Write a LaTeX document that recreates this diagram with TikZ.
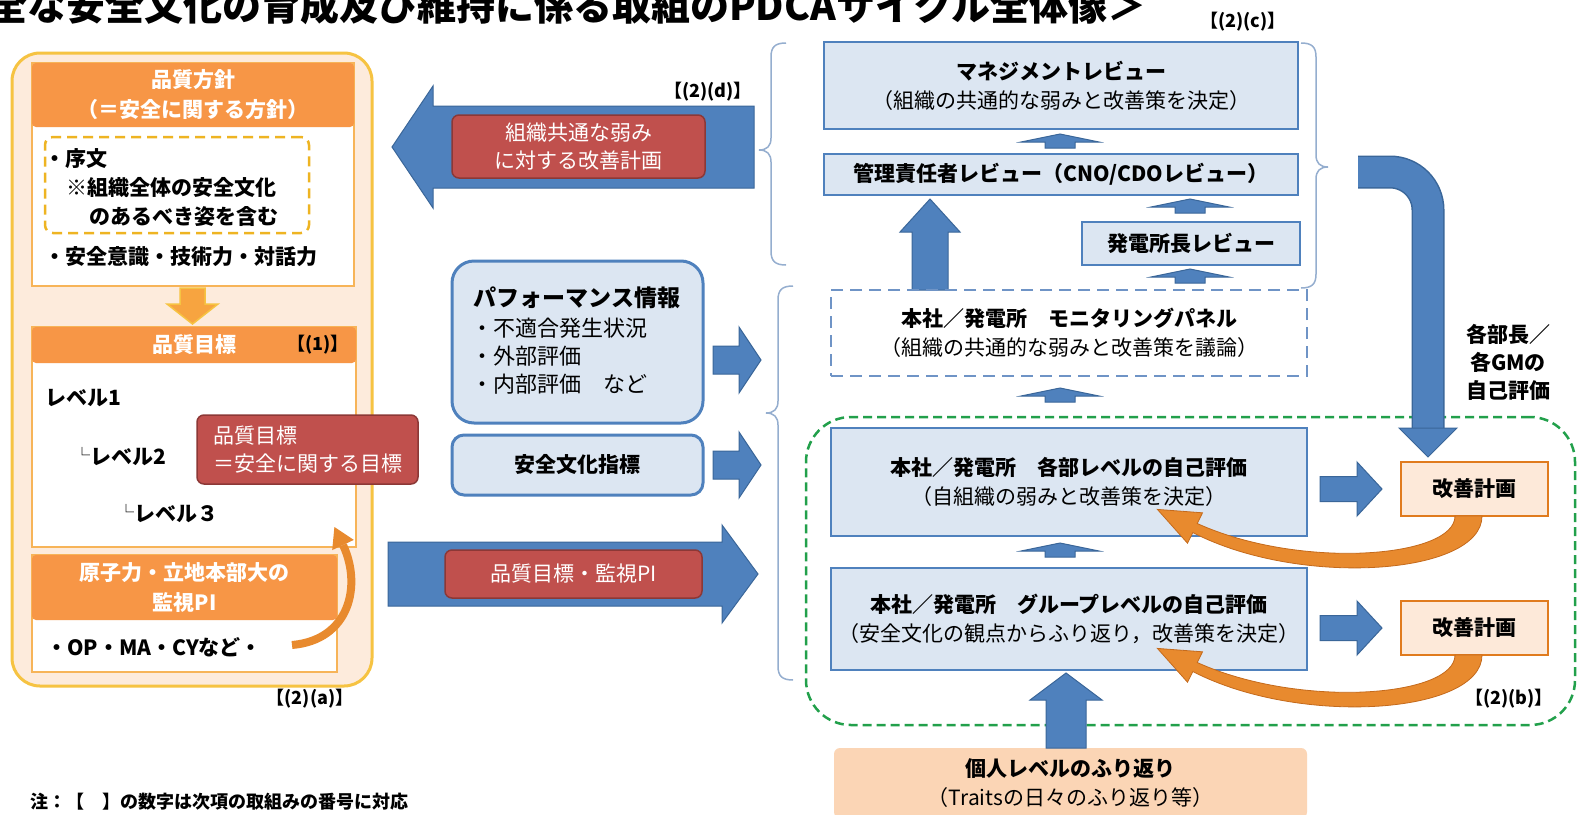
\documentclass[tikz,border=0pt]{standalone}
\usepackage{fontspec}
\setmainfont{Noto Sans CJK JP}
\usetikzlibrary{calc}
\definecolor{blueF}{HTML}{4F81BD}
\definecolor{blueD}{HTML}{3A6699}
\definecolor{lightB}{HTML}{DCE6F2}
\definecolor{redF}{HTML}{C0504D}
\definecolor{redD}{HTML}{8C3836}
\definecolor{orH}{HTML}{F79646}
\definecolor{panelF}{HTML}{FDEBDC}
\definecolor{panelB}{HTML}{F6C342}
\definecolor{innerB}{HTML}{F7B458}
\definecolor{dashY}{HTML}{EEB422}
\definecolor{orDown}{HTML}{F7A440}
\definecolor{greenD}{HTML}{22A04B}
\definecolor{peach}{HTML}{FBD5B5}
\definecolor{kzF}{HTML}{FDE9D9}
\definecolor{kzB}{HTML}{E07B1E}
\definecolor{arrO}{HTML}{E88A2E}
\definecolor{arrOD}{HTML}{C46A1C}
\definecolor{braceC}{HTML}{95AECF}
\definecolor{monB}{HTML}{6F94C6}

% block arrow: [style]{start}{angle}{length}{shaft half width}{head half width}{head length}
\newcommand\blk[7][]{%
  \begin{scope}[shift={(#2)},rotate=#3]
    \filldraw[#1] (0,-#5) -- ({#4-#7},-#5) -- ({#4-#7},-#6) -- (#4,0) -- ({#4-#7},#6) -- ({#4-#7},#5) -- (0,#5) -- cycle;
  \end{scope}}
% left brace: {x}{ytop}{ytip}{ybottom}
\newcommand\bracel[4]{%
  \draw[brc] (#1+15,#2) .. controls (#1+4,#2) and (#1,#2+4) .. (#1,#2+14) -- (#1,#3-12)
    .. controls (#1,#3-4) and (#1-4,#3) .. (#1-12,#3)
    .. controls (#1-4,#3) and (#1,#3+4) .. (#1,#3+12) -- (#1,#4-14)
    .. controls (#1,#4-4) and (#1+4,#4) .. (#1+15,#4);}
% right brace
\newcommand\bracer[4]{%
  \draw[brc] (#1-15,#2) .. controls (#1-4,#2) and (#1,#2+4) .. (#1,#2+14) -- (#1,#3-12)
    .. controls (#1,#3-4) and (#1+4,#3) .. (#1+12,#3)
    .. controls (#1+4,#3) and (#1,#3+4) .. (#1,#3+12) -- (#1,#4-14)
    .. controls (#1,#4-4) and (#1-4,#4) .. (#1-15,#4);}
% orange feedback arc from an improvement plan box
\newcommand\kzarc[1]{%
  \filldraw[orarr] (1455,516+#1) -- (1482,516+#1) .. controls (1482,575+#1) and (1300,588+#1) .. (1192.8,532.5+#1)
    -- (1187.5,543.2+#1) -- (1157.4,509.4+#1) -- (1202.5,512.8+#1) -- (1197.2,523.5+#1)
    .. controls (1300,570+#1) and (1455,558+#1) .. (1455,516+#1) -- cycle;}

\begin{document}
\begin{tikzpicture}[x=1pt,y=-1pt,
  every node/.style={inner sep=0pt},
  bx/.style={font=\fontsize{21}{29}\selectfont\bfseries},
  sm/.style={font=\fontsize{18}{22}\selectfont\bfseries},
  rbox/.style={draw=blueF, line width=2.5pt, fill=lightB, align=center, font=\fontsize{21}{29}\selectfont},
  hdr/.style={fill=orH, rounded corners=4pt, text=white, align=center, font=\fontsize{21}{30}\selectfont\bfseries},
  wbox/.style={draw=innerB, line width=2.5pt, fill=white},
  redbox/.style={draw=redD, line width=1.5pt, fill=redF, rounded corners=7pt, text=white, font=\fontsize{21}{28}\selectfont},
  blkB/.style={fill=blueF, draw=blueD, line width=1pt},
  brc/.style={draw=braceC, line width=1.5pt},
  kz/.style={draw=kzB, fill=kzF, line width=2.5pt, font=\fontsize{21}{29}\selectfont\bfseries},
  orarr/.style={fill=arrO, draw=arrOD, line width=0.8pt},
  ptx/.style={font=\fontsize{22}{28}\selectfont, anchor=west},
]
\useasboundingbox (0,0) rectangle (1586,814);
\clip (0,0) rectangle (1586,814);
\fill[white] (0,0) rectangle (1586,814);

% title (cut at the top, as in the reference)
\node[anchor=base west, font=\fontsize{39}{39}\selectfont\bfseries] (title) at (-90,20) {＜健全な安全文化の育成及び維持に係る取組のPDCAサイクル全体像＞};

% ---------- left panel ----------
\node[draw=panelB, fill=panelF, line width=3pt, rounded corners=28pt, minimum width=360pt, minimum height=633pt] (panel) at (192,369.5) {};
\node[wbox, minimum width=322pt, minimum height=223pt] (pol) at (193,174.5) {};
\node[hdr, minimum width=322pt, minimum height=64pt] (polh) at (193,95) {品質方針\\（＝安全に関する方針）};
\node[draw=dashY, line width=2.5pt, dash pattern=on 10pt off 6pt, rounded corners=8pt, minimum width=264pt, minimum height=96pt] (pre) at (177,185) {};
\node[bx, anchor=west] (t1) at (44,159) {・序文};
\node[bx, anchor=west] (t2) at (66,188) {※組織全体の安全文化};
\node[bx, anchor=west] (t3) at (89,217) {のあるべき姿を含む};
\node[bx, anchor=west] (t4) at (44,257) {・安全意識・技術力・対話力};

\coordinate (da) at (192.5,288);
\blk[fill=orDown, draw=panelB, line width=1.5pt]{da}{-90}{36}{12.5}{25.5}{20}

\node[wbox, minimum width=324pt, minimum height=220pt] (goal) at (194,437) {};
\node[hdr, minimum width=324pt, minimum height=36pt] (goalh) at (194,345) {品質目標};
\node[sm] (n1) at (318,345) {【(1)】};
\node[bx, anchor=west] (l1) at (45,398) {レベル1};
\node[bx, anchor=west] (l2) at (74,457) {\raisebox{3pt}{\fontsize{16}{16}\selectfont └}レベル2};
\node[bx, anchor=west] (l3) at (118,514) {\raisebox{3pt}{\fontsize{16}{16}\selectfont └}レベル３};
\node[redbox, align=left, minimum width=221pt, minimum height=69pt] (red1) at (307.5,449.5) {品質目標\\＝安全に関する目標};

\node[wbox, minimum width=305pt, minimum height=117pt] (pi) at (184.5,613.5) {};
\node[hdr, minimum width=305pt, minimum height=65pt] (pih) at (184.5,587.5) {原子力・立地本部大の\\監視PI};
\node[bx, anchor=west] (op) at (46,647) {・OP・MA・CYなど・};

\coordinate (oc1) at (292,645);
\coordinate (oc2) at (343,545);
\draw[line width=8pt, arrO] (oc1) .. controls (350,640) and (362,585) .. (oc2);
\fill[arrO] (353.8,539.9) -- (334.4,527) -- (332.2,550.1) -- cycle;

\node[sm] (lab2a) at (310,699) {【(2)(a)】};
\node[anchor=west, font=\fontsize{18}{22}\selectfont\bfseries] (note) at (30,802) {注：【　】の数字は次項の取組みの番号に対応};

% ---------- middle ----------
\coordinate (L1s) at (754,147);
\blk[blkB]{L1s}{180}{362}{41}{61}{41}
\node[redbox, align=center, minimum width=253pt, minimum height=63pt] (red2) at (578.5,146.5) {組織共通な弱み\\に対する改善計画};
\node[sm] (lab2d) at (708,92) {【(2)(d)】};

\bracel{771}{43}{150}{265}
\bracel{778}{286}{413}{680}

\node[draw=blueF, line width=3pt, fill=lightB, rounded corners=22pt, minimum width=251pt, minimum height=162pt] (perf) at (577.5,342) {};
\node[font=\fontsize{23}{29}\selectfont\bfseries] (perft) at (577,298) {パフォーマンス情報};
\node[ptx] (p1) at (471,328) {・不適合発生状況};
\node[ptx] (p2) at (471,356) {・外部評価};
\node[ptx] (p3) at (471,384) {・内部評価　など};

\node[draw=blueF, line width=3pt, fill=lightB, rounded corners=12pt, minimum width=251pt, minimum height=60pt, font=\fontsize{21}{29}\selectfont\bfseries] (sci) at (577.5,465) {安全文化指標};

\coordinate (sa1) at (713,360);
\blk[blkB]{sa1}{0}{48}{14}{33}{22}
\coordinate (sa2) at (713,465);
\blk[blkB]{sa2}{0}{48}{14}{33}{22}

\coordinate (R1s) at (388,574);
\blk[blkB]{R1s}{0}{370}{32}{49}{36}
\node[redbox, minimum width=257pt, minimum height=48pt] (red3) at (573.5,574) {品質目標・監視PI};

% ---------- right column ----------
\node[sm] (lab2c) at (1243,22) {【(2)(c)】};
\node[rbox, minimum width=474pt, minimum height=87pt] (mgmt) at (1061,85.5) {{\bfseries マネジメントレビュー}\\（組織の共通的な弱みと改善策を決定）};
\node[rbox, font=\fontsize{21}{29}\selectfont\bfseries, minimum width=474pt, minimum height=41pt] (kanri) at (1061,174.5) {管理責任者レビュー（CNO/CDOレビュー）};
\node[rbox, font=\fontsize{21}{29}\selectfont\bfseries, minimum width=218pt, minimum height=43pt] (hatsu) at (1191,243.5) {発電所長レビュー};

\coordinate (a1) at (1060,148);
\blk[blkB]{a1}{90}{14}{15}{39}{8}
\coordinate (a2) at (1190,213);
\blk[blkB]{a2}{90}{14}{15}{39}{8}
\coordinate (a3) at (1190,283);
\blk[blkB]{a3}{90}{14}{15}{39}{8}

\coordinate (U1s) at (930,290);
\blk[blkB]{U1s}{90}{91}{18}{30}{33}

\bracer{1316}{43}{167}{288}

\node[draw=monB, line width=2.5pt, dash pattern=on 12pt off 7pt, minimum width=476pt, minimum height=86pt, align=center, font=\fontsize{21}{29}\selectfont] (mon) at (1069,333) {{\bfseries 本社／発電所　モニタリングパネル}\\（組織の共通的な弱みと改善策を議論）};
\coordinate (a4) at (1060,402);
\blk[blkB]{a4}{90}{14}{15}{39}{8}

\node[draw=greenD, line width=2.5pt, dash pattern=on 9pt off 5pt, rounded corners=45pt, minimum width=769pt, minimum height=308pt] (grn) at (1190.5,571) {};

\node[rbox, minimum width=476pt, minimum height=108pt] (kakubu) at (1069,482) {{\bfseries 本社／発電所　各部レベルの自己評価}\\（自組織の弱みと改善策を決定）};
\coordinate (a5) at (1060,557);
\blk[blkB]{a5}{90}{14}{15}{39}{8}
\node[rbox, minimum width=476pt, minimum height=102pt] (group) at (1069,619) {{\bfseries 本社／発電所　グループレベルの自己評価}\\（安全文化の観点からふり返り，改善策を決定）};

\node[fill=peach, rounded corners=6pt, minimum width=473pt, minimum height=70pt, align=center, font=\fontsize{21}{29}\selectfont] (kojin) at (1070.5,783) {{\bfseries 個人レベルのふり返り}\\（Traitsの日々のふり返り等）};
\coordinate (U2s) at (1066,748);
\blk[blkB]{U2s}{90}{75}{20}{36}{27}

\node[kz, minimum width=147pt, minimum height=54pt] (kz1) at (1474.5,489) {改善計画};
\node[kz, minimum width=147pt, minimum height=54pt] (kz2) at (1474.5,628) {改善計画};
\coordinate (k1s) at (1320,489);
\blk[blkB]{k1s}{0}{62}{12.5}{27}{25}
\coordinate (k2s) at (1320,628);
\blk[blkB]{k2s}{0}{62}{12.5}{27}{25}

\kzarc{0}
\kzarc{139}

% curved blue arrow from the review group down to the plan
\coordinate (bc0) at (1358,172);
\coordinate (bc1) at (1428,172);
\coordinate (bc2) at (1428,431);
\draw[line width=33pt, blueD, rounded corners=38pt] (bc0) -- (bc1) -- (bc2);
\draw[line width=30pt, blueF, rounded corners=38pt] (bc0) -- (bc1) -- (bc2);
\coordinate (bch) at (1428,428);
\blk[blkB]{bch}{-90}{29}{15}{29}{29}

\node[align=center, font=\fontsize{21}{28}\selectfont\bfseries] (gm) at (1508,362) {各部長／\\各GMの\\自己評価};
\node[sm] (lab2b) at (1509,699) {【(2)(b)】};
\end{tikzpicture}
\end{document}
